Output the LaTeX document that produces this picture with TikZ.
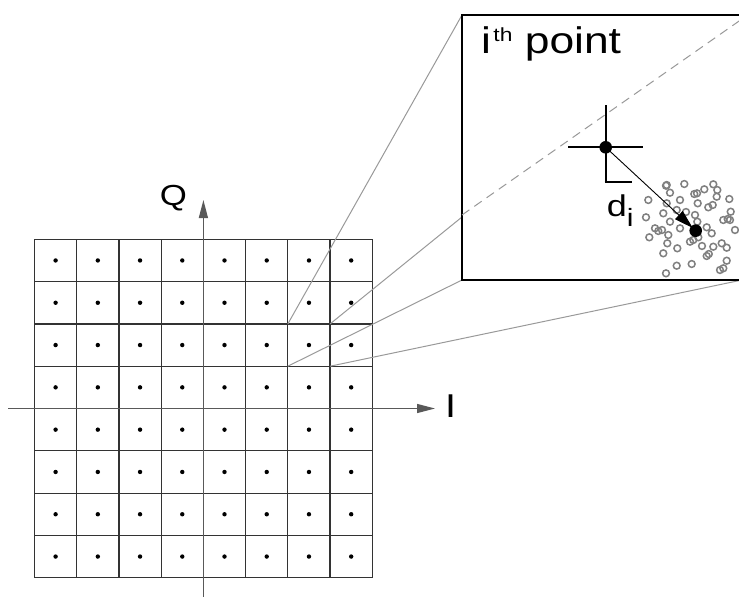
\documentclass[tikz,border=0pt]{standalone}
\usepackage{fontspec}
\setmainfont{Liberation Sans}
\usetikzlibrary{arrows.meta}
\newcommand{\wide}[1]{\scalebox{1.2}[1]{#1}}
\begin{document}
\begin{tikzpicture}[x=1pt,y=-1pt,
  gridline/.style={draw=black!80,line width=1.2pt},
  axisline/.style={draw=black!65,line width=1.3pt,-{Triangle[length=18pt,width=9pt]}},
  guide/.style={draw=black!40,line width=1pt},
  cloudpt/.style={draw=black!50,line width=1.5pt},
  cross/.style={draw=black,line width=2pt},
  lbl/.style={inner sep=0pt}
]
\useasboundingbox (0,0) rectangle (739,597);
\clip (0,0) rectangle (739,597);
% grid
\foreach \i in {0,...,8}{
  \draw[gridline] (34.5+42.225*\i,239.3) -- (34.5+42.225*\i,577.7);
  \draw[gridline] (34.5,239.3+42.3*\i) -- (372.3,239.3+42.3*\i);
}
\foreach \i in {0,...,7}{
  \foreach \j in {0,...,7}{
    \fill (55.6+42.225*\i,260.45+42.3*\j) circle (2.2);
  }
}
% axes
\coordinate (Ibeg) at (8,408.5);
\coordinate (Iend) at (435,408.5);
\coordinate (Qbeg) at (203.4,597);
\coordinate (Qend) at (203.4,200);
\draw[axisline] (Ibeg) -- (Iend);
\draw[axisline] (Qbeg) -- (Qend);
\node[lbl,font=\fontsize{29}{34}\selectfont] (Q) at (173.5,198) {\wide{Q}};
\node[lbl,font=\fontsize{33}{36}\selectfont] (I) at (450.5,406) {\wide{I}};
% zoom guide lines
\coordinate (c1) at (287.85,323.9);
\coordinate (c2) at (330.1,323.9);
\coordinate (c3) at (287.85,366.2);
\coordinate (c4) at (330.1,366.2);
\coordinate (b1) at (462,15);
\coordinate (b2) at (462,217);
\coordinate (b3) at (462,280);
\coordinate (b4) at (742,280);
\draw[guide] (c1) -- (b1);
\draw[guide] (c2) -- (b2);
\draw[guide] (c3) -- (b3);
\draw[guide] (c4) -- (b4);
% inset box
\draw[fill=white,line width=2pt] (b1) rectangle (b4);
\coordinate (d1) at (462,215);
\coordinate (d2) at (741,19.7);
\draw[guide,dash pattern=on 9pt off 6pt] (d1) -- (d2);
\node[anchor=base west,inner sep=0pt,font=\fontsize{37}{40}\selectfont] (title) at (481,53.3)
  {\wide{i\hspace{2pt}\raisebox{12pt}{\fontsize{19}{19}\selectfont th} point}};
% crosshair
\coordinate (ctr) at (605.7,147.3);
\draw[cross] (568,147.3) -- (643,147.3);
\draw[cross] (605.7,105) -- (605.7,182.5);
\draw[cross] (604.7,181.7) -- (632,181.7);
% cloud
\foreach \x/\y in {666/185.7,684.3/184,670/192.7,694.3/194,697/193.3,704.3/189.3,713.3/184.3,717.3/190,
648.3/200,680/200,666.7/203.3,697.7/203.3,716.7/196.7,729.3/199,708.3/207.3,712.7/205,730.7/211.7,
646/217.3,663.3/213.3,676.7/210,670/221.7,695/215,723.3/220,727.7/219,655/228.3,658.3/231,662/230,
680/228.3,697.3/221.7,706.7/227.3,649.3/237.3,668.3/235,690/241.7,693.3/240,711.7/233.3,721.7/243.3,
667.3/243.3,677.3/248.3,698.3/237.3,713.3/246.7,706.7/256,708.8/254,726.7/247.7,663.3/253.3,676.7/265.7,
691.7/264,666/273.3,720/270,723.3/268.3,726.7/260.7,666.7/185,730/220,686/212,702/246,735/230}{
  \draw[cloudpt] (\x,\y) circle (3.4);
}
\coordinate (tgt) at (695.7,230.7);
\draw[line width=0.9pt,-{Triangle[length=19pt,width=11pt]},shorten >=4pt] (ctr) -- (tgt);
\fill (ctr) circle (6.3);
\fill (tgt) circle (6.3);
\node[anchor=base west,inner sep=0pt,font=\fontsize{30}{36}\selectfont] (di) at (606.7,216.7)
  {\wide{d\raisebox{-10pt}{\fontsize{25}{25}\selectfont i}}};
\end{tikzpicture}
\end{document}
